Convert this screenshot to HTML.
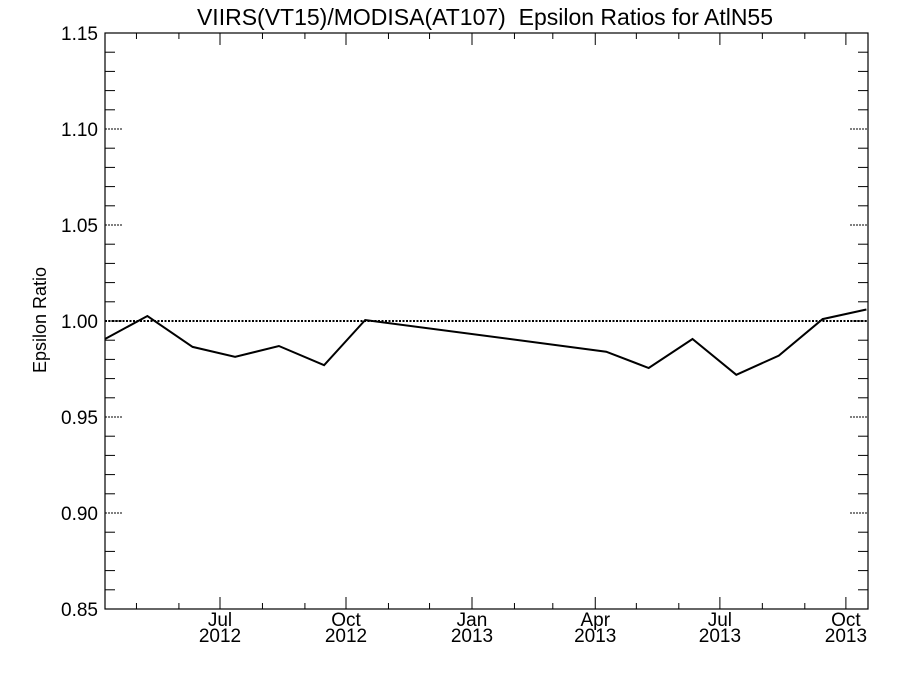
<!DOCTYPE html>
<html><head><meta charset="utf-8"><style>
body{margin:0;background:#fff}
svg text{font-family:"Liberation Sans",sans-serif;fill:#000}
</style></head><body>
<svg id="c" width="900" height="675" xmlns="http://www.w3.org/2000/svg">
<text x="485" y="25" font-size="23" text-anchor="middle">VIIRS(VT15)/MODISA(AT107)&#160; Epsilon Ratios for AtlN55</text>
<text transform="translate(46,320) rotate(-90)" font-size="18" text-anchor="middle">Epsilon Ratio</text>
<g id="axes"></g>
<g id="series"></g>
</svg>
<script>
const dates=["2012-04-08","2012-05-09","2012-06-11","2012-07-12","2012-08-13","2012-09-15","2012-10-15","2013-04-09","2013-05-10","2013-06-11","2013-07-13","2013-08-13","2013-09-14","2013-10-16"];
const ratios=[0.9906,1.0026,0.9865,0.9813,0.987,0.977,1.0005,0.984,0.9755,0.9906,0.972,0.982,1.001,1.006];
const yTicks=[0.85,0.90,0.95,1.00,1.05,1.10,1.15];
const yTickLabels=["0.85","0.90","0.95","1.00","1.05","1.10","1.15"];
const xTickMonths=["2012-07-01","2012-10-01","2013-01-01","2013-04-01","2013-07-01","2013-10-01"];
const xTickLabels=[["Jul","2012"],["Oct","2012"],["Jan","2013"],["Apr","2013"],["Jul","2013"],["Oct","2013"]];
const L=105,R=868,T=33,B=609,yMin=0.85,yMax=1.15;
const t0=Date.UTC(2012,6,1),pxDay=126/92;
function X(d){const p=d.split('-');return 220+(Date.UTC(+p[0],+p[1]-1,+p[2])-t0)/864e5*pxDay;}
function Y(v){return B-(v-yMin)/(yMax-yMin)*(B-T);}
const NS="http://www.w3.org/2000/svg";
function el(tag,attrs,parent){const e=document.createElementNS(NS,tag);for(const k in attrs)e.setAttribute(k,attrs[k]);parent.appendChild(e);return e;}
const ax=document.getElementById('axes'),sr=document.getElementById('series');
const frame=el('rect',{x:L,y:T,width:R-L,height:B-T,fill:'none',stroke:'#000','stroke-width':1.2},ax);


for(let i=0;i<=30;i++){const v=yMin+i*0.01;const y=Y(v);if(i%5===0)continue;
el('line',{x1:L,x2:L+10,y1:y,y2:y,stroke:'#000'},ax);el('line',{x1:R-10,x2:R,y1:y,y2:y,stroke:'#000'},ax);}
yTicks.forEach((v,i)=>{const y=Y(v);
el('line',{x1:L,x2:L+18,y1:y,y2:y,stroke:'#000','stroke-dasharray':'2,1'},ax);
el('line',{x1:R-18,x2:R,y1:y,y2:y,stroke:'#000','stroke-dasharray':'2,1'},ax);
const t=el('text',{x:L-7,y:y+7,'font-size':19,'text-anchor':'end'},ax);t.textContent=yTickLabels[i];

});
for(let m=-2;m<=15;m++){const yr=2012+Math.floor((6+m)/12),mo=((6+m)%12+12)%12;
const x=220+(Date.UTC(yr,mo,1)-t0)/864e5*pxDay;if(x<=L||x>=R)continue;
const major=(m%3===0);const len=major?12:6;
el('line',{x1:x,x2:x,y1:B,y2:B-len,stroke:'#000'},ax);el('line',{x1:x,x2:x,y1:T,y2:T+len,stroke:'#000'},ax);}
xTickMonths.forEach((d,i)=>{const x=X(d);
const t1=el('text',{x:x,y:B+17,'font-size':19,'text-anchor':'middle'},ax);t1.textContent=xTickLabels[i][0];


const t2=el('text',{x:x,y:B+33,'font-size':19,'text-anchor':'middle'},ax);t2.textContent=xTickLabels[i][1];

});
const ref=el('line',{x1:L,x2:R,y1:Y(1),y2:Y(1),stroke:'#000','stroke-width':2,'stroke-dasharray':'2,1.5'},sr);


const pts=dates.map((d,i)=>X(d).toFixed(1)+','+Y(ratios[i]).toFixed(1)).join(' ');
const pl=el('polyline',{points:pts,fill:'none',stroke:'#000','stroke-width':2},sr);


</script>
</body></html>
